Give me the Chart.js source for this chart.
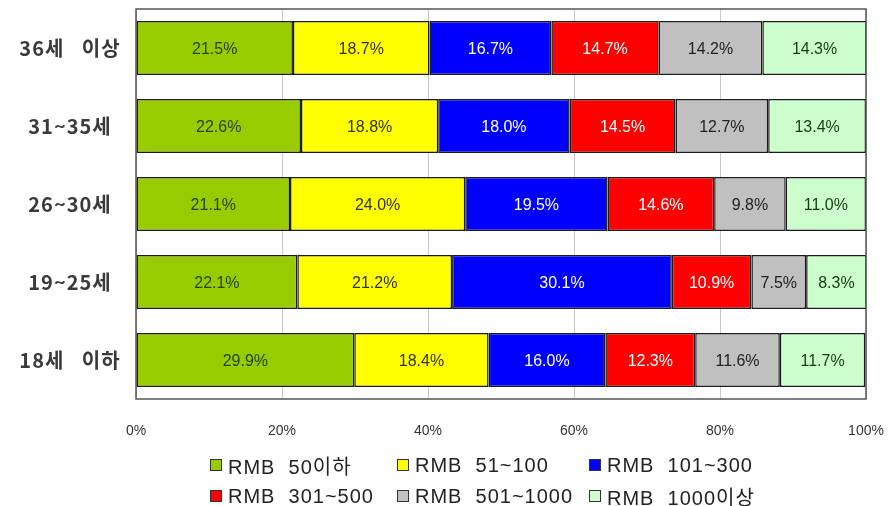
<!DOCTYPE html>
<html lang="ko">
<head>
<meta charset="utf-8">
<script src="https://cdn.jsdelivr.net/npm/chart.js@4/dist/chart.umd.min.js"></script>
<style>
  html, body { margin: 0; padding: 0; background: #fff; }
  #wrap { position: relative; width: 889px; height: 506px; }
  #legend {
    position: absolute; left: 0; top: 452px; width: 889px;
    font-family: "Liberation Sans", "Noto Sans CJK KR", sans-serif;
    font-size: 20px; color: #222; letter-spacing: 1px;
  }
  .item { position: absolute; display: flex; align-items: center; white-space: pre; height: 26px; }
  .box { width: 10px; height: 10px; border: 1.5px solid #333; margin-right: 6px; flex: none; }
</style>
</head>
<body>
<div id="wrap">
  <canvas id="c" width="889" height="506"></canvas>
  <div id="legend"></div>
</div>
<script>
// Age groups (top to bottom) and monthly spending brackets
const ageGroups = ['36세 이상', '31~35세', '26~30세', '19~25세', '18세 이하'];
const brackets = ['RMB 50이하', 'RMB 51~100', 'RMB 101~300', 'RMB 301~500', 'RMB 501~1000', 'RMB 1000이상'];

// Share (%) per bracket, one value per age group
const rmb50 = [21.5, 22.6, 21.1, 22.1, 29.9];
const rmb51to100 = [18.7, 18.8, 24.0, 21.2, 18.4];
const rmb101to300 = [16.7, 18.0, 19.5, 30.1, 16.0];
const rmb301to500 = [14.7, 14.5, 14.6, 10.9, 12.3];
const rmb501to1000 = [14.2, 12.7, 9.8, 7.5, 11.6];
const rmb1000plus = [14.3, 13.4, 11.0, 8.3, 11.7];

const xTicks = [0, 20, 40, 60, 80, 100];

const fills = ['#99cc00', '#ffff00', '#0000ff', '#ff0000', '#c0c0c0', '#ccffcc'];
const labelInk = ['#264400', '#333300', '#ffffff', '#ffffff', '#222222', '#123d12'];
const seriesValues = [rmb50, rmb51to100, rmb101to300, rmb301to500, rmb501to1000, rmb1000plus];

const datasets = brackets.map((name, i) => ({
  label: name,
  data: seriesValues[i],
  backgroundColor: fills[i],
  borderColor: '#1a1a1a',
  borderWidth: 1.5,
  borderSkipped: false,
  categoryPercentage: 1,
  barPercentage: 0.69
}));

// Percentage text centered on each segment
const segmentLabels = {
  id: 'segmentLabels',
  afterDatasetsDraw(chart) {
    const ctx = chart.ctx;
    ctx.save();
    ctx.font = '17px "Liberation Sans", "DejaVu Sans", sans-serif';
    ctx.textAlign = 'center';
    ctx.textBaseline = 'middle';
    chart.data.datasets.forEach((ds, di) => {
      const meta = chart.getDatasetMeta(di);
      meta.data.forEach((bar, idx) => {
        const p = bar.getProps(['x', 'y', 'base'], true);
        const cx = (p.x + p.base) / 2;
        ctx.fillStyle = labelInk[di];
        ctx.save();
        ctx.translate(cx, p.y + 1);
        ctx.scale(0.94, 1);
        ctx.fillText(ds.data[idx].toFixed(1) + '%', 0, 0);
        ctx.restore();
      });
    });
    ctx.restore();
  }
};

// Age-group names centered in the left margin, at each category position
const ageLabels = {
  id: 'ageLabels',
  afterDraw(chart) {
    const ctx = chart.ctx;
    const yScale = chart.scales.y;
    ctx.save();
    ctx.font = 'bold 20px "Noto Sans CJK KR", sans-serif';
    ctx.fillStyle = '#3a3a3a';
    ctx.textAlign = 'center';
    ctx.textBaseline = 'middle';
    if ('letterSpacing' in ctx) ctx.letterSpacing = '1px';
    if ('wordSpacing' in ctx) ctx.wordSpacing = '12px';
    chart.data.labels.forEach((label, i) => {
      ctx.fillText(label, 70, yScale.getPixelForTick(i));
    });
    ctx.restore();
  }
};

// Frame around the plot area
const plotFrame = {
  id: 'plotFrame',
  afterDraw(chart) {
    const a = chart.chartArea;
    const ctx = chart.ctx;
    ctx.save();
    ctx.strokeStyle = '#555';
    ctx.lineWidth = 1.5;
    ctx.strokeRect(a.left, a.top, a.right - a.left, a.bottom - a.top);
    ctx.restore();
  }
};

new Chart(document.getElementById('c'), {
  type: 'bar',
  data: { labels: ageGroups, datasets },
  options: {
    indexAxis: 'y',
    responsive: false,
    animation: false,
    layout: { padding: { top: 9, right: 23, bottom: 62, left: 0 } },
    plugins: { legend: { display: false }, tooltip: { enabled: false } },
    scales: {
      x: {
        stacked: true,
        min: 0,
        max: 100,
        afterBuildTicks(scale) { scale.ticks = xTicks.map(v => ({ value: v })); },
        afterFit(scale) {
          scale.height = 45;
          scale.paddingLeft = 0;
          scale.paddingRight = 0;
        },
        grid: { color: '#c8c8c8', lineWidth: 1, drawTicks: false },
        border: { display: false },
        ticks: {
          padding: 24,
          color: '#333',
          font: { family: '"Liberation Sans Narrow", "Liberation Sans", sans-serif', size: 14 },
          callback: v => v + '%'
        }
      },
      y: {
        stacked: true,
        afterFit(scale) {
          scale.width = 136;
          scale.paddingTop = 0;
          scale.paddingBottom = 0;
        },
        grid: { display: false, drawTicks: false },
        border: { display: false },
        ticks: { display: false }
      }
    }
  },
  plugins: [segmentLabels, ageLabels, plotFrame]
});

// Legend: two rows of three brackets
const legendEl = document.getElementById('legend');
const cols = [210, 397, 589];
brackets.forEach((name, i) => {
  const item = document.createElement('div');
  item.className = 'item';
  item.style.left = cols[i % 3] + 'px';
  item.style.top = (i < 3 ? 0 : 31) + 'px';
  const box = document.createElement('span');
  box.className = 'box';
  box.style.background = fills[i];
  const lbl = document.createElement('span');
  lbl.textContent = name.replace('RMB ', 'RMB  ');
  item.appendChild(box);
  item.appendChild(lbl);
  legendEl.appendChild(item);
});
</script>
</body>
</html>
